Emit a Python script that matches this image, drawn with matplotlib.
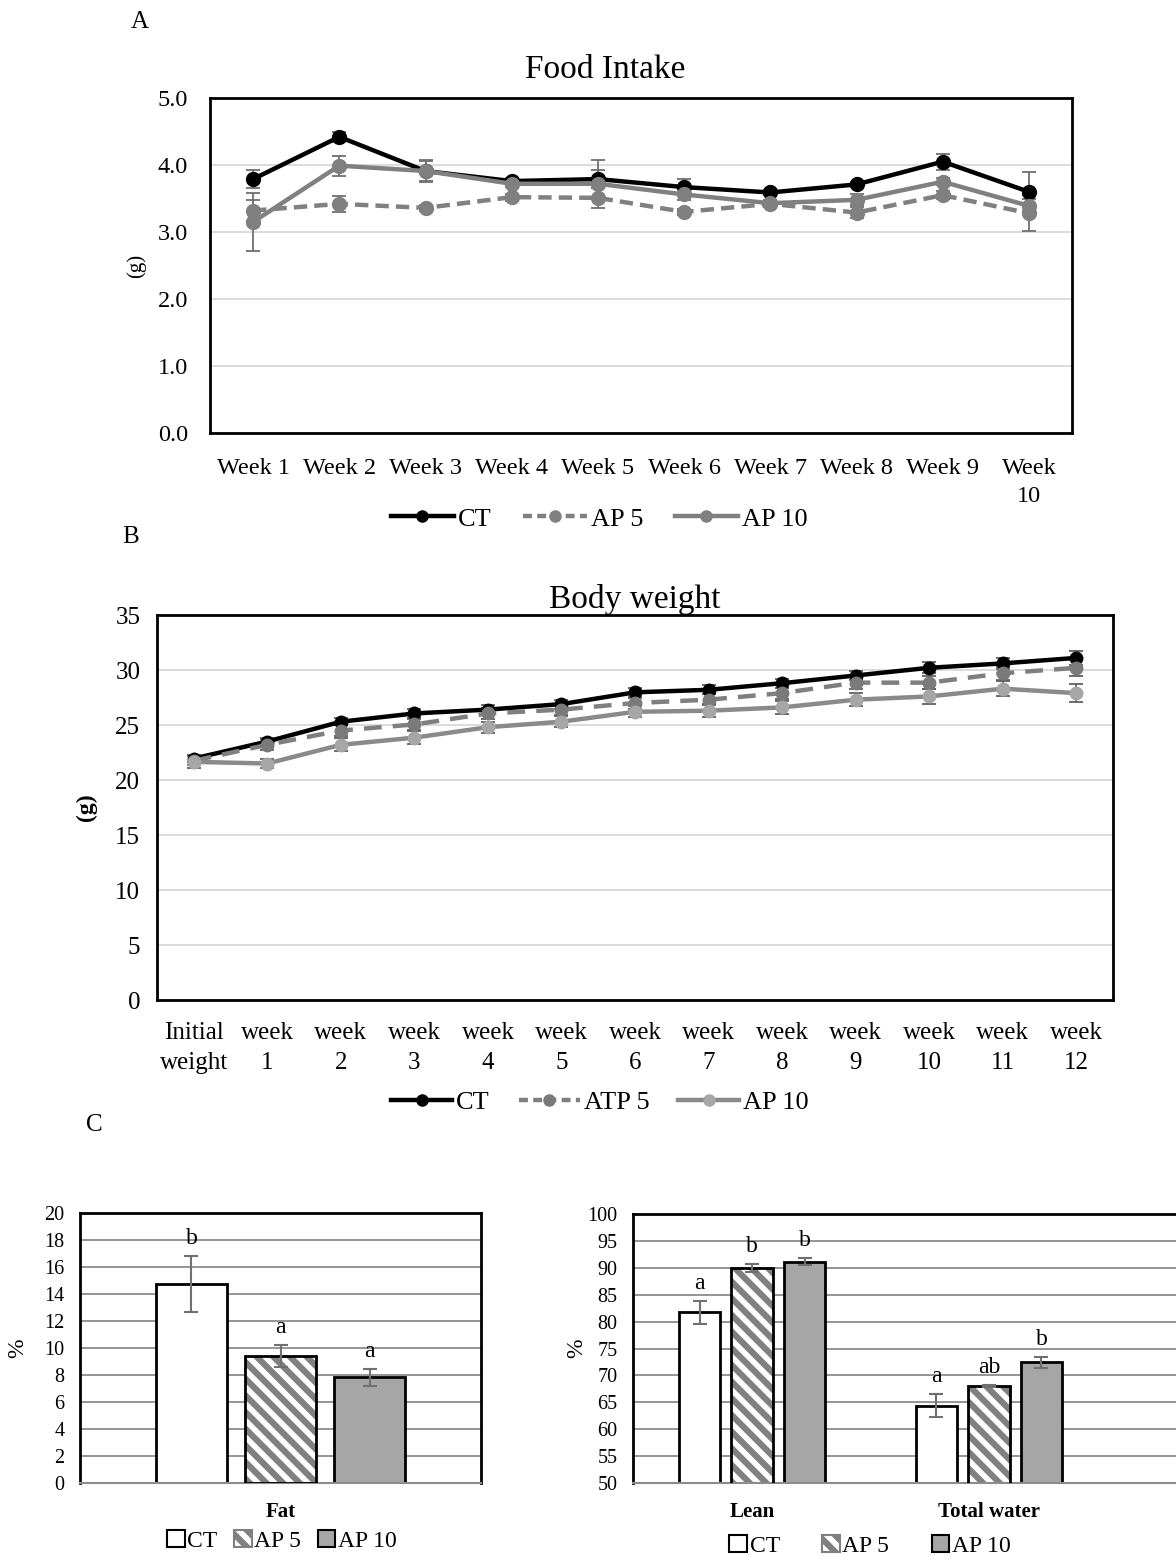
import numpy as np
import matplotlib.pyplot as plt
from matplotlib.patches import Patch
from matplotlib.lines import Line2D

plt.rcParams['font.family'] = ['Liberation Serif', 'DejaVu Serif']
plt.rcParams['hatch.linewidth'] = 4.5
plt.rcParams['hatch.color'] = '#808080'

# ---- data: food intake (A) ----
weeks_a = ['Week 1', 'Week 2', 'Week 3', 'Week 4', 'Week 5', 'Week 6',
           'Week 7', 'Week 8', 'Week 9', 'Week\n10']
food_ct = [3.79, 4.42, 3.91, 3.76, 3.79, 3.67, 3.59, 3.71, 4.05, 3.60]
food_ap5 = [3.32, 3.42, 3.36, 3.52, 3.51, 3.30, 3.42, 3.29, 3.55, 3.28]
food_ap10 = [3.15, 3.99, 3.91, 3.72, 3.72, 3.56, 3.43, 3.48, 3.75, 3.39]
food_ct_err = [0.14, 0.08, 0.16, 0.04, 0.28, 0.12, 0.04, 0.04, 0.12, 0.29]
food_ap5_err = [0.16, 0.12, 0.04, 0.05, 0.15, 0.05, 0.05, 0.08, 0.06, 0.27]
food_ap10_err = [0.43, 0.15, 0.15, 0.05, 0.20, 0.08, 0.05, 0.08, 0.05, 0.10]

# ---- data: body weight (B) ----
weeks_b = ['Initial\nweight', 'week\n1', 'week\n2', 'week\n3', 'week\n4', 'week\n5',
           'week\n6', 'week\n7', 'week\n8', 'week\n9', 'week\n10', 'week\n11', 'week\n12']
bw_ct = [21.95, 23.5, 25.3, 26.05, 26.4, 26.9, 27.97, 28.2, 28.8, 29.5, 30.2, 30.6, 31.1]
bw_atp5 = [21.75, 23.2, 24.5, 25.05, 26.05, 26.4, 27.0, 27.3, 27.9, 28.85, 28.85, 29.7, 30.2]
bw_ap10 = [21.65, 21.5, 23.2, 23.85, 24.8, 25.3, 26.2, 26.3, 26.6, 27.3, 27.6, 28.3, 27.9]
bw_ct_err = [0.3, 0.3, 0.3, 0.4, 0.4, 0.4, 0.4, 0.4, 0.4, 0.4, 0.5, 0.5, 0.6]
bw_atp5_err = [0.4, 0.5, 0.5, 0.5, 0.5, 0.5, 0.5, 0.5, 0.5, 0.6, 0.6, 0.6, 0.7]
bw_ap10_err = [0.6, 0.4, 0.6, 0.6, 0.5, 0.5, 0.5, 0.6, 0.6, 0.6, 0.7, 0.7, 0.8]

# ---- data: body composition (C) ----
groups = ['CT', 'AP 5', 'AP 10']
fat_vals = [14.75, 9.4, 7.85]
fat_err = [2.1, 0.8, 0.63]
fat_letters = ['b', 'a', 'a']
comp_cats = ['Lean', 'Total water']
lean_vals = [81.7, 90.0, 91.1]
lean_err = [2.2, 0.75, 0.65]
lean_letters = ['a', 'b', 'b']
water_vals = [64.4, 68.1, 72.4]
water_err = [2.2, 0.2, 1.0]
water_letters = ['a', 'ab', 'b']

W, H = 1176, 1557
fig = plt.figure(figsize=(W / 100, H / 100), dpi=100)


def ax_at(x0, y0, x1, y1):
    return fig.add_axes([x0 / W, 1 - y1 / H, (x1 - x0) / W, (y1 - y0) / H])


def line_panel(ax, labels, series, ecolor):
    x = np.arange(len(labels))
    for vals, err, kw in series:
        ax.errorbar(x, vals, yerr=err, ecolor=ecolor, elinewidth=1.3, capsize=5,
                    capthick=1.3, zorder=3, **kw)
    ax.set_xlim(-0.5, len(labels) - 0.5)
    ax.set_xticks(x)
    ax.set_xticklabels(labels, linespacing=1.45)
    ax.grid(axis='y', color='#d9d9d9', lw=1.3)
    ax.set_axisbelow(True)
    for s in ax.spines.values():
        s.set_linewidth(2)
        s.set_color('black')
    ax.tick_params(length=0)


# ---- Panel A ----
axA = ax_at(210, 98, 1072, 433)
line_panel(axA, weeks_a, [
    (food_ct, food_ct_err, dict(color='black', lw=3.2, marker='o', ms=10, label='CT')),
    (food_ap5, food_ap5_err, dict(color='#808080', lw=3.2, ls=(0, (3, 1.6)), marker='o', ms=10, label='AP 5')),
    (food_ap10, food_ap10_err, dict(color='#808080', lw=3.2, marker='o', ms=10, label='AP 10')),
], '#707070')
axA.set_ylim(0, 5)
axA.set_yticks(np.arange(0, 5.01, 1.0))
axA.set_yticklabels(['%.1f' % v for v in np.arange(0, 5.01, 1.0)])
axA.tick_params(axis='y', labelsize=17.5, pad=16)
axA.tick_params(axis='x', labelsize=17.5, pad=18)
fig.text(605 / W, 1 - 70 / H, 'Food Intake', fontsize=24, ha='center', va='center')
axA.set_ylabel('(g)', fontsize=15, labelpad=8)
hA = [Line2D([], [], color='black', lw=3.2, marker='o', ms=8),
      Line2D([], [], color='#808080', lw=3.2, ls=(0, (2, 1.2)), marker='o', ms=8),
      Line2D([], [], color='#808080', lw=3.2, marker='o', ms=8)]
fig.legend(hA, ['CT', 'AP 5', 'AP 10'], loc='center', bbox_to_anchor=(599 / W, 1 - 519 / H),
           ncol=3, frameon=False, fontsize=19, handlelength=2.4, handletextpad=0.15,
           columnspacing=1.2)

# ---- Panel B ----
axB = ax_at(157, 615, 1113, 1000)
line_panel(axB, weeks_b, [
    (bw_ct, bw_ct_err, dict(color='black', lw=3.2, marker='o', ms=9, label='CT')),
    (bw_atp5, bw_atp5_err, dict(color='#7f7f7f', lw=3.2, ls=(0, (4, 2.5)), marker='o', ms=9,
                                mfc='#7a7a7a', mec='#7a7a7a', label='ATP 5')),
    (bw_ap10, bw_ap10_err, dict(color='#8a8a8a', lw=3.2, marker='o', ms=9,
                                mfc='#a6a6a6', mec='#a6a6a6', label='AP 10')),
], '#606060')
axB.set_ylim(0, 35)
axB.set_yticks(np.arange(0, 36, 5))
axB.tick_params(axis='y', labelsize=18, pad=12)
axB.tick_params(axis='x', labelsize=18, pad=16)
axB.set_title('Body weight', fontsize=24, pad=2)
axB.set_ylabel('(g)', fontsize=17, fontweight='bold', labelpad=13)
hB = [Line2D([], [], color='black', lw=3.2, marker='o', ms=8),
      Line2D([], [], color='#7f7f7f', lw=3.2, ls=(0, (2, 1.2)), marker='o', ms=8, mfc='#7a7a7a', mec='#7a7a7a'),
      Line2D([], [], color='#8a8a8a', lw=3.2, marker='o', ms=8, mfc='#a6a6a6', mec='#a6a6a6')]
fig.legend(hB, ['CT', 'ATP 5', 'AP 10'], loc='center', bbox_to_anchor=(600 / W, 1 - 1102 / H),
           ncol=3, frameon=False, fontsize=19, handlelength=2.3, handletextpad=0.15,
           columnspacing=1.1)

# ---- Panel C ----
fills = ['white', 'white', '#a6a6a6']
hatches = [None, '\\\\', None]
bw = 0.175
offs = [-0.222, 0.0, 0.222]


def bar_panel(ax, xs, vals_by_group, errs_by_group, letters_by_group, ylpad):
    for g in range(3):
        xx = np.asarray(xs) + offs[g]
        v = vals_by_group[g]
        e = errs_by_group[g]
        if hatches[g]:
            ax.bar(xx, v, bw, color='white', edgecolor='#808080', hatch=hatches[g], lw=0, zorder=2)
            ax.bar(xx, v, bw, fill=False, edgecolor='black', lw=2, zorder=3)
        else:
            ax.bar(xx, v, bw, color=fills[g], edgecolor='black', lw=2, zorder=2)
        ax.errorbar(xx, v, yerr=e, fmt='none', ecolor='#707070', elinewidth=1.5,
                    capsize=5, capthick=1.5, zorder=4)
        for xi, vi, ei, lt in zip(xx, v, e, letters_by_group[g]):
            ax.annotate(lt, (xi, vi + ei), xytext=(0, 5), textcoords='offset points',
                        ha='center', va='bottom', fontsize=17)
    ax.grid(axis='y', color='#8c8c8c', lw=1.3)
    ax.set_axisbelow(True)
    ax.tick_params(length=0)
    ax.tick_params(axis='y', labelsize=14.5, pad=11)
    ax.tick_params(axis='x', labelsize=15, pad=14)
    for lab in ax.get_xticklabels():
        lab.set_fontweight('bold')
    ax.spines['left'].set_linewidth(2)
    ax.spines['top'].set_linewidth(2)
    ax.spines['right'].set_linewidth(2)
    ax.spines['bottom'].set_color('#8c8c8c')
    ax.spines['bottom'].set_linewidth(1.5)
    ax.set_ylabel('%', fontsize=17, labelpad=ylpad)


axC1 = ax_at(80, 1213, 481, 1483)
axC1.set_xticks([0])
axC1.set_xticklabels(['Fat'])
bar_panel(axC1, [0], [[v] for v in fat_vals], [[e] for e in fat_err], [[l] for l in fat_letters], 12)
axC1.set_xlim(-0.5, 0.5)
axC1.set_ylim(0, 20)
axC1.set_yticks(np.arange(0, 21, 2))

axC2 = ax_at(633, 1214, 1176, 1483)
axC2.set_xticks([0, 1])
axC2.set_xticklabels(comp_cats)
bar_panel(axC2, [0, 1],
          [[lean_vals[g], water_vals[g]] for g in range(3)],
          [[lean_err[g], water_err[g]] for g in range(3)],
          [[lean_letters[g], water_letters[g]] for g in range(3)], 0)
axC2.spines['right'].set_visible(False)
axC2.set_xlim(-0.503, 1.79)
axC2.set_ylim(50, 100)
axC2.set_yticks(np.arange(50, 101, 5))

hC = [Patch(facecolor='white', edgecolor='black', lw=1.5),
      Patch(facecolor='white', edgecolor='#808080', hatch='\\\\', lw=1.5),
      Patch(facecolor='#a6a6a6', edgecolor='black', lw=1.5)]
fig.legend(hC, groups, loc='center', bbox_to_anchor=(282 / W, 1 - 1541 / H), ncol=3,
           frameon=False, fontsize=17, handlelength=0.75, handleheight=0.75,
           handletextpad=0.1, columnspacing=0.7)
fig.legend(hC, groups, loc='center', bbox_to_anchor=(870 / W, 1 - 1546 / H), ncol=3,
           frameon=False, fontsize=17, handlelength=0.75, handleheight=0.75,
           handletextpad=0.1, columnspacing=1.8)

fig.text(140 / W, 1 - 22 / H, 'A', fontsize=18, ha='center', va='center')
fig.text(131 / W, 1 - 537 / H, 'B', fontsize=18, ha='center', va='center')
fig.text(94 / W, 1 - 1125 / H, 'C', fontsize=18, ha='center', va='center')

fig.savefig('out.png', dpi=100)
